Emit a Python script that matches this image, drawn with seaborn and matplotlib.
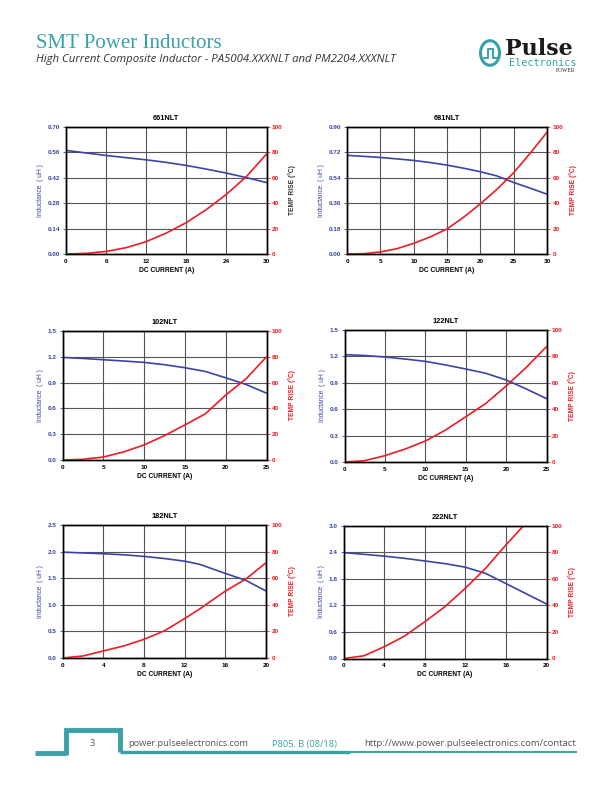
import matplotlib
matplotlib.use("Agg")
import matplotlib.pyplot as plt
import seaborn as sns
from matplotlib.lines import Line2D
from matplotlib.patches import Circle

# ---------------- data ----------------
titles = ["661NLT", "681NLT", "102NLT", "122NLT", "182NLT", "222NLT"]

cur_661 = [0, 3, 6, 9, 12, 15, 18, 21, 24, 27, 30]
ind_661 = [0.571, 0.557, 0.543, 0.531, 0.519, 0.505, 0.488, 0.468, 0.446, 0.421, 0.394]
tmp_661 = [0, 0.5, 2, 5, 9.7, 16.5, 24.7, 35, 47, 61, 78.7]

cur_681 = [0, 2.5, 5, 7.5, 10, 12.5, 15, 17.5, 20, 22.5, 25, 27.5, 30]
ind_681 = [0.699, 0.692, 0.684, 0.674, 0.663, 0.648, 0.630, 0.608, 0.583, 0.553, 0.507, 0.466, 0.424]
tmp_681 = [0, 0.3, 1.6, 4.2, 8.4, 13.5, 19.7, 29, 39.5, 51, 64, 79.5, 95.8]

cur_102 = [0, 2.5, 5, 7.5, 10, 12.5, 15, 17.5, 20, 22.5, 25]
ind_102 = [1.193, 1.181, 1.166, 1.151, 1.135, 1.108, 1.073, 1.03, 0.956, 0.878, 0.777]
tmp_102 = [0, 0.5, 2.3, 6.3, 11.7, 18.9, 27.2, 35.8, 50.3, 63, 80]

cur_122 = [0, 2.5, 5, 7.5, 10, 12.5, 15, 17.5, 20, 22.5, 25]
ind_122 = [1.22, 1.21, 1.193, 1.17, 1.144, 1.103, 1.057, 1.008, 0.932, 0.83, 0.72]
tmp_122 = [0, 1, 4.8, 9.8, 15.9, 24.2, 34.3, 44.4, 57.6, 71.7, 87.4]

cur_182 = [0, 2, 4, 6, 8, 10, 12, 13.5, 16, 18, 20]
ind_182 = [1.99, 1.975, 1.96, 1.94, 1.91, 1.87, 1.82, 1.76, 1.59, 1.46, 1.26]
tmp_182 = [0, 1.5, 5.3, 9, 14, 20.4, 29.6, 37, 50.3, 59.3, 71.6]

cur_222 = [0, 2, 4, 6, 8, 10, 12, 14, 16, 18, 20]
ind_222 = [2.39, 2.35, 2.31, 2.26, 2.2, 2.14, 2.06, 1.92, 1.69, 1.46, 1.23]
cur_222_t = [0, 2, 4, 6, 8, 10, 12, 14, 16, 18]
tmp_222 = [0, 2, 8.8, 16.8, 27.6, 39, 52.8, 67.8, 85.4, 102]

ind_max = [0.70, 0.90, 1.5, 1.5, 2.5, 3.0]
ind_fmt = ["{:.2f}", "{:.2f}", "{:.1f}", "{:.1f}", "{:.1f}", "{:.1f}"]
cur_max = [30, 30, 25, 25, 20, 20]
cur_step = [6, 5, 5, 5, 4, 4]
temp_ticks = [0, 20, 40, 60, 80, 100]

series = [
    (cur_661, ind_661, cur_661, tmp_661),
    (cur_681, ind_681, cur_681, tmp_681),
    (cur_102, ind_102, cur_102, tmp_102),
    (cur_122, ind_122, cur_122, tmp_122),
    (cur_182, ind_182, cur_182, tmp_182),
    (cur_222, ind_222, cur_222_t, tmp_222),
]

# ---------------- style ----------------
sns.set_theme(style="white")
plt.rcParams["font.family"] = ["Liberation Sans", "DejaVu Sans"]

W, H = 612, 792
fig = plt.figure(figsize=(W / 100, H / 100), dpi=100)

BLUE = "#3b44a6"
RED = "#ee1c25"
TEAL = "#3aa1a8"
GRID = "#555555"

# axes boxes in pixels: left, right, top, bottom
boxes = [
    (66, 266.5, 127, 254),
    (347, 547, 127, 254),
    (62.5, 266.5, 331, 460),
    (344.5, 546.5, 330, 462),
    (62.5, 266, 525, 658),
    (343.5, 546.5, 525.5, 658.5),
]
right_label_colors = ["#333333", RED, RED, RED, RED, RED]

for i, (l, r, t, b) in enumerate(boxes):
    ax = fig.add_axes([l / W, 1 - b / H, (r - l) / W, (b - t) / H])
    xc, yi, xt, yt = series[i]
    sns.lineplot(x=xc, y=yi, ax=ax, color=BLUE, lw=1.2)
    ax.set_xlim(0, cur_max[i])
    ax.set_ylim(0, ind_max[i])
    yt_l = [ind_max[i] * k / 5 for k in range(6)]
    ax.set_yticks(yt_l)
    ax.set_yticklabels([ind_fmt[i].format(v) for v in yt_l])
    xt_l = list(range(0, cur_max[i] + 1, cur_step[i]))
    ax.set_xticks(xt_l)
    ax.set_xticklabels([str(v) for v in xt_l])
    ax.grid(True, color=GRID, lw=0.8)
    ax.set_axisbelow(True)
    for s in ax.spines.values():
        s.set_color("black")
        s.set_linewidth(1.0)
    ax.tick_params(axis="y", colors=BLUE, labelsize=4.6, length=2, width=0.6, pad=2)
    ax.tick_params(axis="x", colors="black", labelsize=4.6, length=2, width=0.6, pad=1.5)
    for lab in ax.get_yticklabels() + ax.get_xticklabels():
        lab.set_fontweight("bold")
    ax.set_xlabel("DC CURRENT (A)", fontsize=4.8, fontweight="bold", color="black", labelpad=2)
    ax.set_ylabel("Inductance  ( uH )", fontsize=4.8, color=BLUE, labelpad=3)
    ax.set_title(titles[i], fontsize=5.3, fontweight="bold", color="black", pad=5)

    ax2 = ax.twinx()
    sns.lineplot(x=xt, y=yt, ax=ax2, color=RED, lw=1.2)
    ax2.set_ylim(0, 100)
    ax2.set_yticks(temp_ticks)
    ax2.set_yticklabels([str(v) for v in temp_ticks])
    ax2.tick_params(axis="y", colors=RED, labelsize=4.6, length=2, width=0.6, pad=2)
    for lab in ax2.get_yticklabels():
        lab.set_fontweight("bold")
    ax2.set_ylabel("TEMP RISE (\u00b0C)", fontsize=4.8, fontweight="bold",
                   color=right_label_colors[i], labelpad=4)
    ax2.grid(False)
    for s in ax2.spines.values():
        s.set_color("black")
        s.set_linewidth(1.0)

# ---------------- header ----------------
def fx(px):
    return px / W

def fy(py):
    return 1 - py / H

fig.text(fx(36), fy(43), "SMT Power Inductors", fontsize=15, color=TEAL,
         family=["Liberation Serif", "DejaVu Serif"], va="center", ha="left")
fig.text(fx(36), fy(59.5), "High Current Composite Inductor - PA5004.XXXNLT and PM2204.XXXNLT",
         fontsize=8.2, style="italic", color="#333333",
         family=["Open Sans", "DejaVu Sans"], va="center", ha="left")

# logo
circ = Circle((fx(490), fy(53)), 9.5 / W, transform=fig.transFigure,
              fill=False, ec=TEAL, lw=2.2)
fig.add_artist(circ)
fig.add_artist(Line2D([fx(484), fx(488), fx(488), fx(493), fx(493), fx(497)],
                      [fy(58), fy(58), fy(49), fy(49), fy(58), fy(58)],
                      transform=fig.transFigure, color=TEAL, lw=1.4))
fig.text(fx(505), fy(49), "Pulse", fontsize=16, fontweight="bold", color="#1a1a1a",
         family=["DejaVu Serif"], va="center", ha="left")
fig.text(fx(576), fy(63.5), "Electronics", fontsize=7.4, color=TEAL,
         family=["DejaVu Sans Mono"], va="center", ha="right")
fig.text(fx(575), fy(71), "POWER", fontsize=4, color="#222222",
         family=["Liberation Serif"], va="center", ha="right")

# ---------------- footer ----------------
tf = fig.transFigure
fig.add_artist(Line2D([fx(35), fx(66)], [fy(753), fy(753)], transform=tf,
                      color=TEAL, lw=3.5, solid_capstyle="butt"))
fig.add_artist(Line2D([fx(66), fx(66), fx(120), fx(120)],
                      [fy(754.5), fy(730), fy(730), fy(752)], transform=tf,
                      color=TEAL, lw=3.5, solid_joinstyle="miter", solid_capstyle="butt"))
fig.add_artist(Line2D([fx(120), fx(350)], [fy(752), fy(752)], transform=tf,
                      color=TEAL, lw=2.4, solid_capstyle="butt"))
fig.add_artist(Line2D([fx(350), fx(577)], [fy(752), fy(752)], transform=tf,
                      color=TEAL, lw=1.4, solid_capstyle="butt"))

ffam = ["Open Sans", "DejaVu Sans"]
fig.text(fx(92), fy(744), "3", fontsize=6.7, color="#555555", family=ffam, va="center", ha="center")
fig.text(fx(128), fy(744), "power.pulseelectronics.com", fontsize=6.7, color="#555555",
         family=ffam, va="center", ha="left")
fig.text(fx(272), fy(744), "P805. B (08/18)", fontsize=6.7, color=TEAL,
         family=ffam, va="center", ha="left")
fig.text(fx(576), fy(744), "http://www.power.pulseelectronics.com/contact", fontsize=6.8,
         color="#555555", family=ffam, va="center", ha="right")

fig.savefig("out.png", dpi=100, facecolor="white")
